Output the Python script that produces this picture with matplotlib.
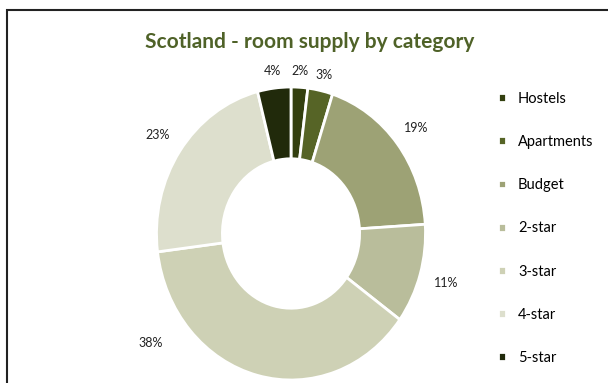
import numpy as np
import matplotlib
matplotlib.use("Agg")
import matplotlib.pyplot as plt
from matplotlib.patches import Rectangle

plt.rcParams['font.family'] = ['Lato', 'DejaVu Sans']

categories = ['Hostels', 'Apartments', 'Budget', '2-star', '3-star', '4-star', '5-star']
shares = [2, 3, 19, 11, 38, 23, 4]
colors = ['#333F0F', '#566426', '#9DA275', '#B9BD9B', '#CED1B5', '#DDDFCD', '#212A0B']
title = 'Scotland - room supply by category'

fig = plt.figure(figsize=(6.08, 3.83), dpi=100)
# donut is slightly taller than wide in the original, so axes aspect stays auto
ax = fig.add_axes([156.5 / 608, 3 / 383, 269 / 608, 293 / 383])

wedges, _ = ax.pie(shares, colors=colors, startangle=90, counterclock=False,
                   wedgeprops=dict(width=0.49, edgecolor='white', linewidth=2))
ax.set_aspect('auto')
ax.set_xlim(-1, 1)
ax.set_ylim(-1, 1)

# percent labels outside, the big one nudged round like excel's best fit
label_shift = [0, 0, 0, 0, -40, 0, 0]
label_dist = [1.11, 1.11, 1.18, 1.2, 1.28, 1.2, 1.12]
for w, s, sh, d in zip(wedges, shares, label_shift, label_dist):
    ang = np.deg2rad((w.theta1 + w.theta2) / 2 + sh)
    ax.text(d * np.cos(ang), d * np.sin(ang), f'{s}%', ha='center', va='center',
            fontsize=9, color='#222222')

fig.text(0.51, 1 - 42 / 383, title, ha='center', va='center', fontsize=15,
         fontweight='bold', color='#4F6228')

fig.legend(wedges, categories, loc='upper left', bbox_to_anchor=(0.81, 1 - 86 / 383),
           frameon=False, fontsize=10.5, handlelength=0.55, handleheight=0.55,
           handletextpad=0.8, labelspacing=2.0, borderaxespad=0)

fig.patches.append(Rectangle((7 / 608, -0.1), 1.2, 1.1 - 10 / 383, transform=fig.transFigure,
                             fill=False, edgecolor='#222222', linewidth=1.5))

fig.savefig('out.png', dpi=100)
